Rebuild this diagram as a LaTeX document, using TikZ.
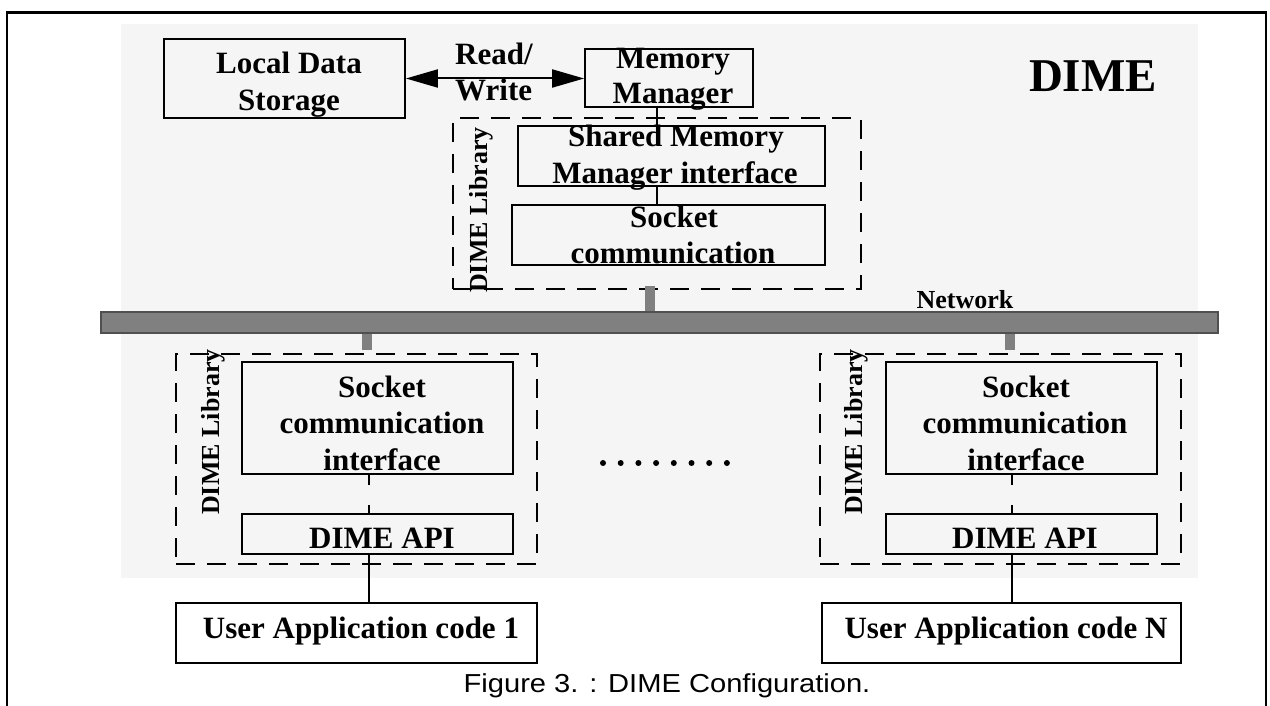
\documentclass[tikz,border=0pt]{standalone}
\usepackage{fontspec}
\setmainfont{Liberation Serif}
\newfontfamily\capfont{Liberation Sans}
\usetikzlibrary{arrows.meta}

\tikzset{
  box/.style={draw=black, line width=1.8pt, inner sep=0pt},
  libbox/.style={draw=black, line width=1.8pt, inner sep=0pt, dash pattern=on 19pt off 12pt},
  txt/.style={font=\bfseries\fontsize{31}{36}\selectfont, anchor=base, inner sep=0pt},
  libtxt/.style={font=\bfseries\fontsize{26}{30}\selectfont, anchor=base west, rotate=90, inner sep=0pt},
  link/.style={line width=1.5pt},
  stub/.style={line width=10pt, draw=netgray},
}
\definecolor{panel}{RGB}{245,245,245}
\definecolor{netgray}{RGB}{128,128,128}
\definecolor{netedge}{RGB}{80,80,80}

\begin{document}
\begin{tikzpicture}[x=1pt, y=-1pt]
\useasboundingbox (0,0) rectangle (1270,706);

% page frame (open at the bottom)
\draw[line width=2.5pt] (7,706) -- (7,12.5) -- (1266,12.5) -- (1266,706);

% light panel behind the DIME system
\fill[panel] (121,24) rectangle (1198,578);

% network backbone
\node[draw=netedge, fill=netgray, line width=1.5pt, minimum width=1117pt, minimum height=21pt, inner sep=0pt] (bar) at (659.5,322.5) {};
\node[txt, font=\bfseries\fontsize{26}{30}\selectfont] (netlbl) at (965,308) {Network};

% big title
\node[txt, font=\bfseries\fontsize{47}{52}\selectfont] (title) at (1093,92) {DIME};

% ---------- server side ----------
\node[box, minimum width=241pt, minimum height=79pt] (lds) at (284.5,78.5) {};
\node[txt] at (289,74) {Local Data};
\node[txt] at (289,111) {Storage};

\node[box, minimum width=168pt, minimum height=58pt] (mm) at (669,78) {};
\node[txt] at (673,69) {Memory};
\node[txt] at (673,104) {Manager};

\draw[link, line width=2pt, {Triangle[length=32pt,width=18pt]}-{Triangle[length=32pt,width=18pt]}]
  (lds.east) -- (lds.east -| mm.west);
\node[txt, anchor=base west] (rw1) at (455,65) {Read/};
\node[txt, anchor=base west] (rw2) at (455,101) {Write};

\node[libbox, minimum width=408pt, minimum height=171pt] (lib0) at (657,203.5) {};
\node[libtxt] (lib0lbl) at (487,293) {DIME Library};

\node[box, minimum width=307pt, minimum height=60pt] (smm) at (671.5,156) {};
\node[txt] at (676,147) {Shared Memory};
\node[txt] at (675,183) {Manager interface};

\node[box, minimum width=313pt, minimum height=60pt] (sc) at (668.5,235) {};
\node[txt] at (674,227) {Socket};
\node[txt] at (673,263) {communication};

\coordinate (c0) at (657,0);
\draw[link] (c0 |- mm.south) -- (c0 |- smm.north);
\draw[link] (c0 |- smm.south) -- (c0 |- sc.north);

\coordinate (s0) at (650,0);
\draw[stub] (s0 |- lib0.south) ++(0,-4) -- (s0 |- bar.north);

% ---------- client 1 ----------
\node[libbox, minimum width=361pt, minimum height=210pt] (lib1) at (356.5,459) {};
\node[libtxt] (lib1lbl) at (219,515) {DIME Library};

\node[box, minimum width=271pt, minimum height=112pt] (sci1) at (377.5,418) {};
\node[txt] at (382,397) {Socket};
\node[txt] at (382,433) {communication};
\node[txt] at (382,470) {interface};

\node[box, minimum width=271pt, minimum height=40pt] (api1) at (377.5,534) {};
\node[txt] at (382,548) {DIME API};

\node[box, minimum width=361pt, minimum height=60pt] (ua1) at (356.5,633) {};
\node[txt] at (361,638) {User Application code 1};

\coordinate (c1) at (369,0);
\draw[link, dash pattern=on 10pt off 20pt] (c1 |- sci1.south) -- (c1 |- api1.north);
\draw[link] (c1 |- api1.south) -- (c1 |- ua1.north);

\coordinate (s1) at (366.5,0);
\draw[stub] (s1 |- bar.south) -- ([yshift=3pt]s1 |- lib1.north);

% ---------- client N ----------
\node[libbox, minimum width=361pt, minimum height=210pt] (libN) at (1000.5,459) {};
\node[libtxt] (libNlbl) at (862,515) {DIME Library};

\node[box, minimum width=271pt, minimum height=112pt] (sciN) at (1021.5,418) {};
\node[txt] at (1026,397) {Socket};
\node[txt] at (1025,433) {communication};
\node[txt] at (1026,470) {interface};

\node[box, minimum width=271pt, minimum height=40pt] (apiN) at (1021.5,534) {};
\node[txt] at (1025,548) {DIME API};

\node[box, minimum width=359pt, minimum height=60pt] (uaN) at (1001.5,633) {};
\node[txt] at (1006,638) {User Application code N};

\coordinate (cN) at (1012,0);
\draw[link, dash pattern=on 10pt off 20pt] (cN |- sciN.south) -- (cN |- apiN.north);
\draw[link] (cN |- apiN.south) -- (cN |- uaN.north);

\coordinate (sN) at (1009.5,0);
\draw[stub] (sN |- bar.south) -- ([yshift=3pt]sN |- libN.north);

% ellipsis between the clients
\foreach \i in {0,...,7} \fill (603+17.7*\i,463) circle (3pt);

% caption
\node[font=\capfont\fontsize{26}{30}\selectfont, anchor=base, inner sep=0pt, xscale=1.12] (cap) at (667,692) {Figure 3. : DIME Configuration.};
\end{tikzpicture}
\end{document}
